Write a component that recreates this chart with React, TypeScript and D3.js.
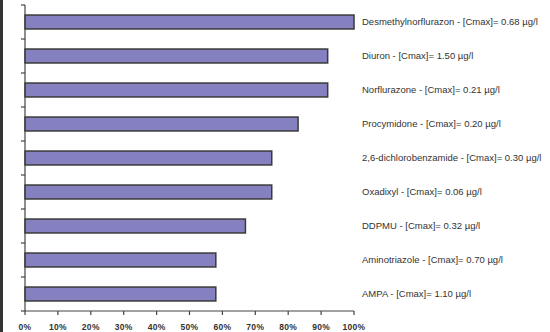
import React from "react";
import * as d3 from "d3";

const categories = [
  "Desmethylnorflurazon - [Cmax]= 0.68 µg/l",
  "Diuron - [Cmax]= 1.50 µg/l",
  "Norflurazone - [Cmax]= 0.21 µg/l",
  "Procymidone - [Cmax]= 0.20 µg/l",
  "2,6-dichlorobenzamide - [Cmax]= 0.30 µg/l",
  "Oxadixyl - [Cmax]= 0.06 µg/l",
  "DDPMU - [Cmax]= 0.32 µg/l",
  "Aminotriazole - [Cmax]= 0.70 µg/l",
  "AMPA - [Cmax]= 1.10 µg/l",
];
const values = [1.0, 0.92, 0.92, 0.83, 0.75, 0.75, 0.67, 0.58, 0.58];
const xTicks = [0, 0.1, 0.2, 0.3, 0.4, 0.5, 0.6, 0.7, 0.8, 0.9, 1.0];

export default function App() {
  const W = 550, H = 332;
  const x0 = 25, x1 = 354, yTop = 5, yBot = 311;
  const x = d3.scaleLinear().domain([0, 1]).range([x0, x1]);
  const y = d3.scaleBand<string>().domain(categories).range([yTop, yBot]).paddingInner(0.59).paddingOuter(0.295);
  const yb = d3.scaleBand<string>().domain(categories).range([yTop, yBot]);
  const fmt = d3.format(".0%");
  return (
    <svg width={W} height={H} style={{ position: "absolute", left: 0, top: 0 }} fontFamily="'Liberation Sans', Arial, sans-serif">
      <rect x={0} y={0} width={W} height={H} fill="#fff" />
      <line x1={1.5} x2={1.5} y1={0} y2={H} stroke="#333" strokeWidth={3} />
      {categories.map((c, i) => (
        <g key={c}>
          <rect x={x(0)} y={y(c)!} width={x(values[i]) - x(0)} height={y.bandwidth()} fill="#8580c0" stroke="#3a3a3a" strokeWidth={1.5} />
          <text x={362} y={y(c)! + y.bandwidth() / 2} dy="0.35em" fontSize={9.5} fill="#333">{c}</text>
        </g>
      ))}
      <line x1={x0} x2={x0} y1={yTop} y2={yBot} stroke="#444" strokeWidth={1.2} />
      {[...categories.map((c) => yb(c)!), yBot].map((t, i) => (
        <line key={i} x1={x0 - 4} x2={x0} y1={t} y2={t} stroke="#444" strokeWidth={1.2} />
      ))}
      <line x1={x0} x2={x1} y1={yBot} y2={yBot} stroke="#444" strokeWidth={1.2} />
      {xTicks.map((t) => (
        <g key={t}>
          <line x1={x(t)} x2={x(t)} y1={yBot} y2={yBot + 4} stroke="#444" strokeWidth={1.2} />
          <text x={x(t)} y={yBot + 19} textAnchor="middle" fontSize={8.5} fontWeight="bold" fill="#333" style={{ letterSpacing: "0.3px" }}>{fmt(t)}</text>
        </g>
      ))}
    </svg>
  );
}
